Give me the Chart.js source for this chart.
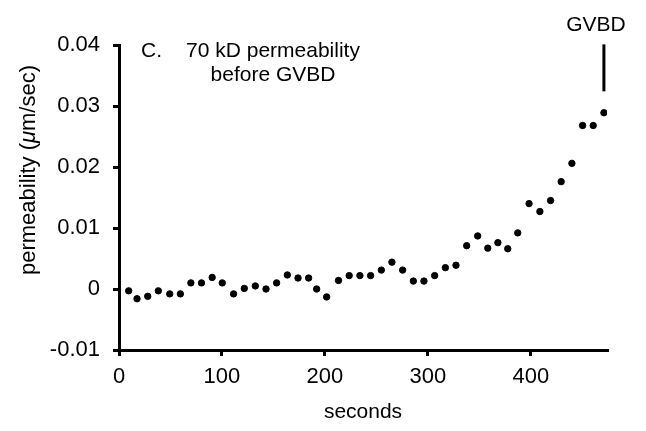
<!DOCTYPE html>
<html><head><meta charset="utf-8">
<script src="https://cdn.jsdelivr.net/npm/chart.js@4/dist/chart.umd.min.js"></script>
<style>html,body{margin:0;padding:0;background:#fff;} #wrap{width:646px;height:431px;}</style>
</head><body><div id="wrap"><canvas id="c" width="646" height="431"></canvas></div>
<script>
const seconds = [9.4, 17.5, 27.9, 38.2, 49.3, 59.6, 69.8, 80.1, 90.5, 100.3,
  111.3, 121.7, 132.4, 142.8, 153.1, 163.5, 173.9, 184.2, 192, 201.7,
  213.2, 223.6, 234, 244.4, 254.8, 265.1, 275.5, 285.9, 296.2, 306.6,
  317, 327.3, 337.7, 348.4, 358.2, 368, 377.6, 387.3, 398.3, 408.8,
  419.2, 429.5, 439.9, 450.3, 460.6, 471];
const permeability = [-0.0003, -0.0016, -0.0012, -0.0003, -0.0008, -0.0008, 0.0010, 0.0010, 0.0019, 0.0010,
  -0.0008, 0.0001, 0.0005, 0.0000, 0.0010, 0.0023, 0.0018, 0.0018, 0.0000, -0.0013,
  0.0014, 0.0022, 0.0022, 0.0022, 0.0031, 0.0044, 0.0031, 0.0013, 0.0013, 0.0022,
  0.0035, 0.0039, 0.0071, 0.0087, 0.0067, 0.0076, 0.0066, 0.0092, 0.0140, 0.0127,
  0.0145, 0.0176, 0.0206, 0.0268, 0.0268, 0.0289];
const xRange = [0, 474];
const xTickStep = 100;
const yRange = [-0.01, 0.04];
const yTickStep = 0.01;
const panelLetter = 'C.';
const titleLines = ['70 kD permeability', 'before GVBD'];
const xTitle = 'seconds';
const yTitleParts = ['permeability (', '\u03bc', 'm/sec)'];
const markerLabel = 'GVBD';
const markerSecond = 471;
const markerSpan = [0.0324, 0.0401];

const FONT = '"Liberation Sans", Arial, Helvetica, sans-serif';
const FS = 21;
const TFS = 22;

const annot = {
  id: 'annot',
  afterDraw(chart) {
    const ctx = chart.ctx, xs = chart.scales.x, ys = chart.scales.y;
    ctx.save();
    ctx.fillStyle = '#000';
    ctx.strokeStyle = '#000';
    ctx.font = FS + 'px ' + FONT;
    ctx.textBaseline = 'alphabetic';
    ctx.textAlign = 'left';
    ctx.fillText(panelLetter, 141, 57);
    ctx.textAlign = 'center';
    ctx.fillText(titleLines[0], 273, 57);
    ctx.fillText(titleLines[1], 273, 81);
    ctx.fillText(markerLabel, 596, 31);
    const gx = xs.getPixelForValue(markerSecond);
    ctx.lineWidth = 3;
    ctx.beginPath();
    ctx.moveTo(gx, ys.getPixelForValue(markerSpan[1]));
    ctx.lineTo(gx, ys.getPixelForValue(markerSpan[0]));
    ctx.stroke();
    // y axis title with italic mu
    const fonts = ['normal ' + TFS + 'px ' + FONT, 'italic ' + TFS + 'px ' + FONT, 'normal ' + TFS + 'px ' + FONT];
    let widths = yTitleParts.map((t, i) => { ctx.font = fonts[i]; return ctx.measureText(t).width; });
    const total = widths.reduce((a, b) => a + b, 0);
    ctx.translate(29, 170);
    ctx.rotate(-Math.PI / 2);
    ctx.textAlign = 'left';
    ctx.textBaseline = 'middle';
    let cx = -total / 2;
    yTitleParts.forEach((t, i) => { ctx.font = fonts[i]; ctx.fillText(t, cx, 0); cx += widths[i]; });
    ctx.restore();
  }
};

new Chart(document.getElementById('c'), {
  type: 'scatter',
  data: {
    datasets: [{
      data: seconds.map((s, i) => ({x: s, y: permeability[i]})),
      backgroundColor: '#000',
      borderColor: '#000',
      pointRadius: 3.2,
      pointHoverRadius: 3.2,
      showLine: false
    }]
  },
  options: {
    responsive: false,
    animation: false,
    devicePixelRatio: 1,
    layout: {padding: {top: 45, right: 39, left: 0, bottom: 0}},
    plugins: {legend: {display: false}, tooltip: {enabled: false}},
    scales: {
      x: {
        type: 'linear', min: xRange[0], max: xRange[1],
        afterFit: s => { s.height = 81; },
        border: {display: true, color: '#000', width: 3},
        grid: {display: true, drawOnChartArea: false, drawTicks: true, tickLength: 6, lineWidth: 3, color: '#000'},
        ticks: {stepSize: xTickStep, includeBounds: false, padding: 8, color: '#000', font: {family: FONT, size: TFS}},
        title: {display: true, text: xTitle, color: '#000', font: {family: FONT, size: FS}, padding: {top: 0, bottom: 6}}
      },
      y: {
        type: 'linear', min: yRange[0], max: yRange[1],
        afterFit: s => { s.width = 119; },
        border: {display: true, color: '#000', width: 3},
        grid: {display: true, drawOnChartArea: false, drawTicks: true, tickLength: 6, lineWidth: 3, color: '#000'},
        ticks: {stepSize: yTickStep, padding: 13, color: '#000', font: {family: FONT, size: TFS},
          callback: v => Math.abs(v) < 1e-9 ? '0' : v.toFixed(2)}
      }
    }
  },
  plugins: [annot]
});
</script></body></html>
